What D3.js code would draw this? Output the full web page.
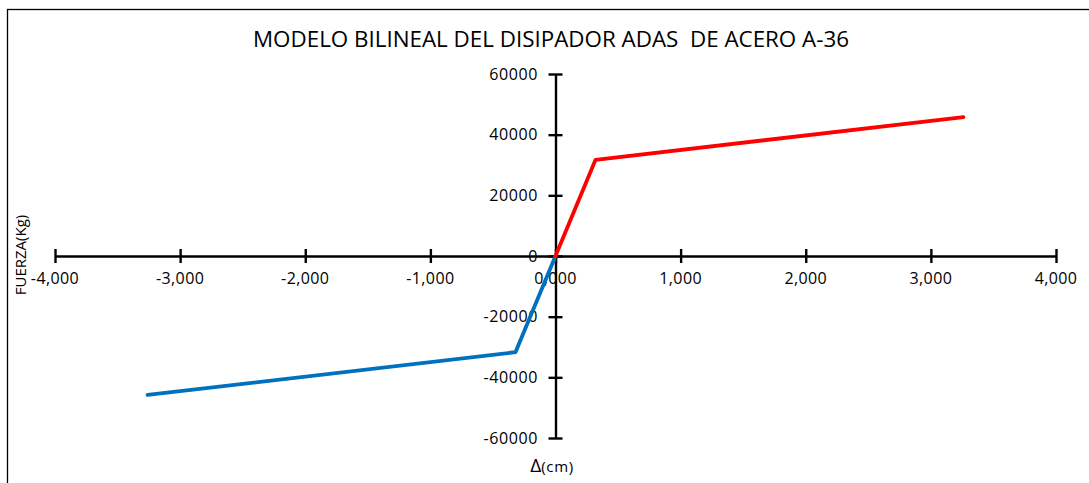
<!DOCTYPE html>
<html>
<head>
<meta charset="utf-8">
<script src="https://cdn.jsdelivr.net/npm/d3@7"></script>
<style>
  html, body { margin: 0; padding: 0; background: #fff; }
  svg { display: block; }
  text { font-family: "Open Sans", "Liberation Sans", sans-serif; fill: #000; white-space: pre; }
</style>
</head>
<body>
<svg id="chart" width="1089" height="483"></svg>
<script>
// ---- data ----
const titleText = "MODELO BILINEAL DEL DISIPADOR ADAS  DE ACERO A-36";
const xTickValues = [-4, -3, -2, -1, 0, 1, 2, 3, 4];
const xTickLabels = ["-4,000", "-3,000", "-2,000", "-1,000", "0,000", "1,000", "2,000", "3,000", "4,000"];
const yTickValues = [-60000, -40000, -20000, 0, 20000, 40000, 60000];
const yTickLabels = ["-60000", "-40000", "-20000", "0", "20000", "40000", "60000"];
const positiveX = [0, 0.32, 3.26];
const positiveY = [0, 31700, 45800];
const negativeX = [0, -0.32, -3.26];
const negativeY = [0, -31700, -45800];

const svg = d3.select("#chart");
const W = 1089, H = 483;

svg.append("rect").attr("x", 0).attr("y", 0).attr("width", W).attr("height", H).attr("fill", "#fff");
// outer chart border (extends beyond right/bottom)
svg.append("rect").attr("x", 7.5).attr("y", 9.5).attr("width", W + 20).attr("height", H + 20)
  .attr("fill", "none").attr("stroke", "#000").attr("stroke-width", 1.3);

const x = d3.scaleLinear().domain([-4, 4]).range([55, 1056]);
const y = d3.scaleLinear().domain([-60000, 60000]).range([438, 74]);

// title
svg.append("text").attr("x", 551).attr("y", 47).attr("text-anchor", "middle")
  .attr("font-size", 21).attr("textLength", 596).attr("lengthAdjust", "spacingAndGlyphs")
  .attr("xml:space", "preserve")
  .text(titleText);

// tick labels (drawn beneath axes)
const gLab = svg.append("g");
gLab.selectAll("text.xl").data(xTickValues).enter().append("text")
  .attr("class", "xl")
  .attr("x", d => x(d)).attr("y", 284)
  .attr("text-anchor", "middle").attr("font-size", 16).attr("letter-spacing", 0.4)
  .text((d, i) => xTickLabels[i]);
gLab.selectAll("text.yl").data(yTickValues).enter().append("text")
  .attr("class", "yl")
  .attr("x", 538).attr("y", d => y(d) + 5.5)
  .attr("text-anchor", "end").attr("font-size", 16).attr("letter-spacing", 0.6)
  .text((d, i) => yTickLabels[i]);

// axes
const xAxis = d3.axisBottom(x).tickValues(xTickValues).tickSize(0).tickFormat("");
const gx = svg.append("g").attr("transform", `translate(0,${y(0)})`).call(xAxis);
gx.select(".domain").attr("stroke", "#000").attr("stroke-width", 2.4);
gx.selectAll(".tick line").remove();
gx.selectAll(".tick").append("line").attr("y1", -7).attr("y2", 7).attr("stroke", "#000").attr("stroke-width", 2.4);

const yAxis = d3.axisLeft(y).tickValues(yTickValues).tickSize(0).tickFormat("");
const gy = svg.append("g").attr("transform", `translate(${x(0)},0)`).call(yAxis);
gy.select(".domain").attr("stroke", "#000").attr("stroke-width", 2.4);
gy.selectAll(".tick line").remove();
gy.selectAll(".tick").append("line").attr("x1", -7).attr("x2", 7).attr("stroke", "#000").attr("stroke-width", 2.4);

// series
const line = d3.line().x(d => x(d[0])).y(d => y(d[1]));
svg.append("path").datum(negativeX.map((v, i) => [v, negativeY[i]]))
  .attr("d", line).attr("fill", "none").attr("stroke", "#0070C0").attr("stroke-width", 3.8)
  .attr("stroke-linecap", "round").attr("stroke-linejoin", "round");
svg.append("path").datum(positiveX.map((v, i) => [v, positiveY[i]]))
  .attr("d", line).attr("fill", "none").attr("stroke", "#FF0000").attr("stroke-width", 3.8)
  .attr("stroke-linecap", "round").attr("stroke-linejoin", "round");

// axis titles
const xt = svg.append("text").attr("x", 552).attr("y", 472).attr("text-anchor", "middle");
xt.append("tspan").attr("font-size", 19).text("Δ");
xt.append("tspan").attr("font-size", 15).attr("letter-spacing", 0.6).text("(cm)");

svg.append("text").attr("transform", "translate(26,255) rotate(-90)")
  .attr("text-anchor", "middle").attr("font-size", 15).text("FUERZA(Kg)");
</script>
</body>
</html>
